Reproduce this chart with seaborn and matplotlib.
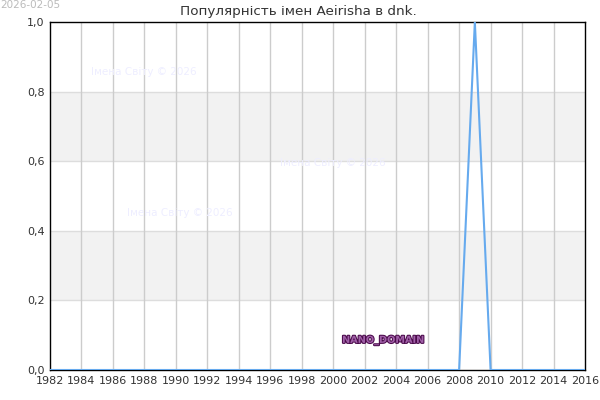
import matplotlib
matplotlib.use("Agg")
import matplotlib.pyplot as plt
import matplotlib.patheffects as pe
import seaborn as sns
import pandas as pd

years = list(range(1982, 2017))
values = [0.0] * len(years)
values[years.index(2009)] = 1.0
xticks = list(range(1982, 2017, 2))
yticks = [0.0, 0.2, 0.4, 0.6, 0.8, 1.0]
title = "Популярність імен Aeirisha в dnk."
date_text = "2026-02-05"
watermark = "Імена Світу © 2026"

df = pd.DataFrame({"year": years, "value": values})

sns.set_theme(style="white")
plt.rcParams['font.family'] = ['DejaVu Sans']

fig = plt.figure(figsize=(6, 4), dpi=100)
ax = fig.add_axes([50/600, 1-370/400, 535/600, 348/400])

for lo, hi in [(0.2, 0.4), (0.6, 0.8)]:
    ax.axhspan(lo, hi, color="#f2f2f2", zorder=0, lw=0)
for y in yticks[1:-1]:
    ax.axhline(y, color="#dddddd", lw=1, zorder=1)
for x in xticks[1:-1]:
    ax.axvline(x, color="#cccccc", lw=1, zorder=1)

sns.lineplot(data=df, x="year", y="value", ax=ax, color="#66aaee", lw=1.5, zorder=3)

ax.set_xlim(1982, 2016)
ax.set_ylim(0, 1)
ax.set_xticks(xticks)
ax.set_yticks(yticks)
ax.set_yticklabels([f"{v:.1f}".replace(".", ",") for v in yticks])
ax.tick_params(axis="both", labelsize=8, colors="#333333", length=0, pad=4)
ax.set_xlabel("")
ax.set_ylabel("")
for s in ax.spines.values():
    s.set_color("black")
    s.set_linewidth(1)
    s.set_visible(True)

fig.text(298/600, 1-11/400, title, fontsize=9.7, color="#333333", ha="center", va="center")

fig.text(0.0, 1-5/400, date_text, fontsize=7.5, color="#bbbbbb", va="center", ha="left")

for (px, py) in [(91, 72), (280, 163), (127, 213)]:
    fig.text(px/600, 1-py/400, watermark, fontsize=7.5, color="#eeeeff", ha="left", va="center", zorder=2)

t = fig.text(383/600, 1-340/400, "NANO_DOMAIN", fontsize=7, fontweight="bold",
             color="#a060a8", ha="center", va="center")
t.set_path_effects([pe.Stroke(linewidth=1.5, foreground="#4a0a4a"), pe.Normal()])

fig.savefig("out.png", dpi=100)
